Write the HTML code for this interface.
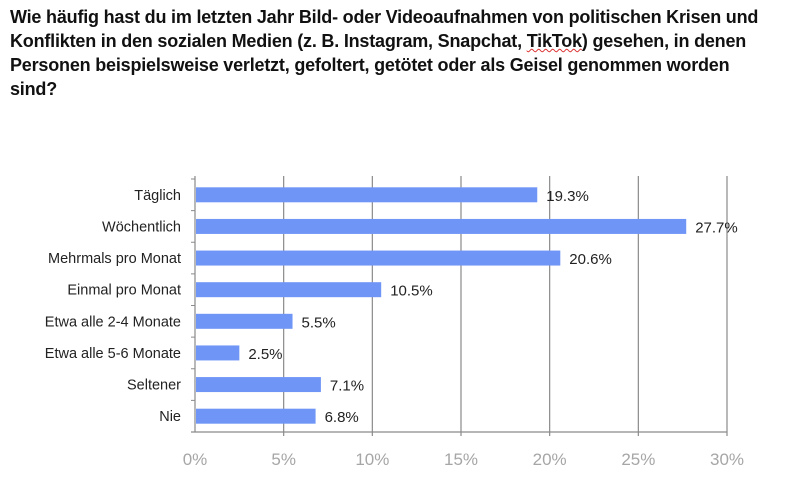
<!DOCTYPE html>
<html><head><meta charset="utf-8"><style>
body{margin:0;background:#fff;width:800px;height:482px;overflow:hidden;font-family:"Liberation Sans",sans-serif}
#title{position:absolute;left:10px;top:5px;width:790px;font-weight:bold;font-size:18px;line-height:24px;color:#111;letter-spacing:-0.2px;white-space:nowrap}
#title span.u{text-decoration:underline wavy #d33;text-decoration-thickness:1px}
svg{position:absolute;left:0;top:0}
</style></head><body>
<div id="title">Wie häufig hast du im letzten Jahr Bild- oder Videoaufnahmen von politischen Krisen und<br>Konflikten in den sozialen Medien (z. B. Instagram, Snapchat, <span class="u">TikTok</span>) gesehen, in denen<br>Personen beispielsweise verletzt, gefoltert, getötet oder als Geisel genommen worden<br>sind?</div>
<svg id="chart" width="800" height="482"></svg>
<script>
const categories=["Täglich","Wöchentlich","Mehrmals pro Monat","Einmal pro Monat","Etwa alle 2-4 Monate","Etwa alle 5-6 Monate","Seltener","Nie"];
const values=[19.3,27.7,20.6,10.5,5.5,2.5,7.1,6.8];
const ticks=[0,5,10,15,20,25,30];
const tickLabels=["0%","5%","10%","15%","20%","25%","30%"];
const svg=document.getElementById('chart');
const NS="http://www.w3.org/2000/svg";
const x0=195,x1=727,plotTop=179,plotBottom=432;
const xs=v=>x0+(v/30)*(x1-x0);
const band=(plotBottom-plotTop)/categories.length;
function mk(t,a){const e=document.createElementNS(NS,t);for(const k in a)e.setAttribute(k,a[k]);svg.appendChild(e);return e;}
ticks.forEach((t,i)=>{
  if(i>0){const g=mk('line',{x1:xs(t),x2:xs(t),y1:plotTop-3,y2:plotBottom+4,stroke:'#8a8a8a','stroke-width':1.2});
  
  }
  const l=mk('text',{x:xs(t),y:465,'text-anchor':'middle','font-size':17,fill:'#a6a6a6'});
  l.textContent=tickLabels[i];
  
  
});
const ax=mk('line',{x1:x0,x2:x0,y1:plotTop-3,y2:plotBottom,stroke:'#8a8a8a','stroke-width':1.2});


const bx=mk('line',{x1:x0-4,x2:x1,y1:plotBottom,y2:plotBottom,stroke:'#8a8a8a','stroke-width':1.2});


for(let i=0;i<=categories.length;i++){const t=mk('line',{x1:x0-4,x2:x0,y1:plotTop+i*band,y2:plotTop+i*band,stroke:'#8a8a8a','stroke-width':1});

}
categories.forEach((c,i)=>{
  const cy=plotTop+band*(i+0.5);
  const r=mk('rect',{x:x0+1,y:cy-7.5,width:xs(values[i])-x0-1,height:15,fill:'#6f96f7'});
  
  
  const l=mk('text',{x:181,y:cy+5,'text-anchor':'end','font-size':14.5,fill:'#222'});
  l.textContent=c;
  
  
  const v=mk('text',{x:xs(values[i])+9,y:cy+6,'font-size':15,fill:'#222'});
  v.textContent=values[i].toFixed(1)+'%';
  
  
});
</script>
</body></html>
